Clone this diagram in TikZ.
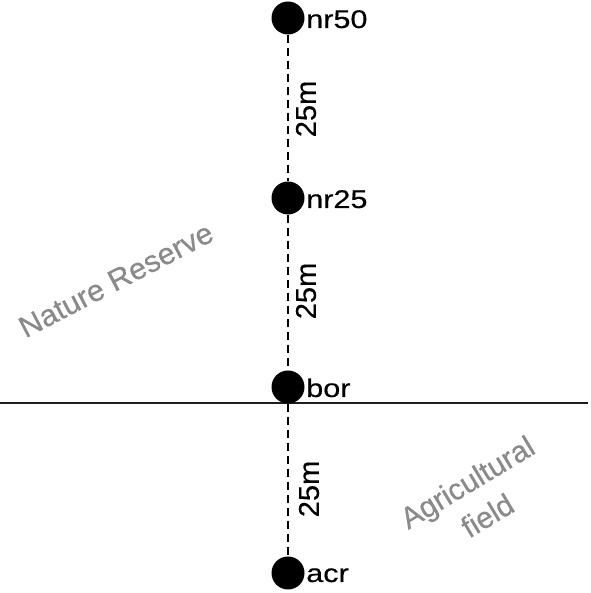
\documentclass[tikz,border=0pt]{standalone}
\usepackage{fontspec}
\setmainfont{Liberation Sans}
\newfontfamily\heavyfont{Liberation Sans}[FakeBold=0.45]
\definecolor{areagray}{RGB}{138,138,138}
\definecolor{linegray}{RGB}{30,30,30}
\tikzset{
  dot/.style={circle, fill=black, draw=none, minimum size=33pt, inner sep=0pt},
  lbl/.style={inner sep=0pt, font=\heavyfont\fontsize{25.5}{30}\selectfont, xscale=1.2},
  dist/.style={inner sep=0pt, font=\heavyfont\fontsize{28.5}{34}\selectfont, rotate=90, xscale=1.02},
  area/.style={inner sep=0pt, text=areagray, font=\heavyfont\fontsize{30}{36}\selectfont},
  dashline/.style={draw=black, line width=2.6pt, dash pattern=on 8pt off 5pt},
  border/.style={draw=linegray, line width=2pt}
}
\begin{document}
\begin{tikzpicture}[x=1pt, y=1pt]
\useasboundingbox (0,0) rectangle (590,593);
% border line
\coordinate (bl) at (0,189.5);
\coordinate (br) at (588,189.5);
\draw[border] (bl) -- (br);
% dots
\node[dot] (nr50) at (288,575) {};
\node[dot] (nr25) at (288,395) {};
\node[dot] (bor) at (288,206) {};
\node[dot] (acr) at (288,20) {};
% dashed connectors
\draw[dashline] (nr50) -- (nr25);
\draw[dashline] (nr25) -- (bor);
\draw[dashline] (bor) -- (acr);
% labels
\node[lbl, anchor=base west] (tnr50) at (306,565) {nr50};
\node[lbl, anchor=base west] (tnr25) at (306,385) {nr25};
\node[lbl, anchor=base west] (tbor) at (306,196) {bor};
\node[lbl, anchor=base west] (tacr) at (306,11) {acr};
% distances
\node[dist] (d1) at (306,484) {25m};
\node[dist] (d2) at (306,302) {25m};
\node[dist] (d3) at (309,104) {25m};
% areas
\node[area, rotate=27.5, xscale=1.02] (nat) at (116,313) {Nature Reserve};
\node[area, rotate=31, xscale=1.0] (agr1) at (468.7,108.4) {Agricultural};
\node[area, rotate=31, xscale=1.0] (agr2) at (487.3,77.6) {field};
\end{tikzpicture}
\end{document}
